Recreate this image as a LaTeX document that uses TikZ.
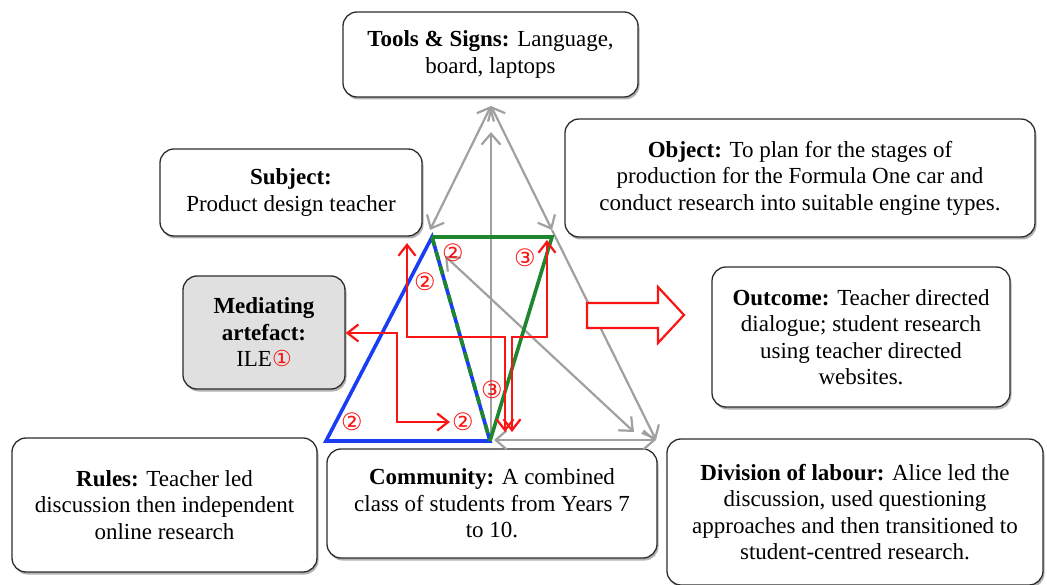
\documentclass[tikz,border=0pt]{standalone}
\usepackage{fontspec}
\setmainfont{Liberation Serif}
\newfontfamily\dejavu{DejaVu Sans}
\usetikzlibrary{arrows.meta,shadows}
\definecolor{gline}{RGB}{160,160,160}
\definecolor{bl}{RGB}{25,60,245}
\definecolor{gr}{RGB}{30,135,45}
\definecolor{rd}{RGB}{250,20,20}
\definecolor{boxedge}{RGB}{45,45,45}
\definecolor{medfill}{RGB}{224,224,224}
\begin{document}
\begin{tikzpicture}[x=1pt,y=-1pt,
  box/.style={draw=boxedge, line width=1.3pt, rounded corners=14pt, fill=white, align=center,
    font=\fontsize{23}{26.5}\selectfont, inner sep=0pt,
    drop shadow={shadow xshift=1.5pt, shadow yshift=-2.5pt, opacity=0.3, fill=black}},
  num/.style={text=rd, font=\dejavu\fontsize{24}{24}\selectfont, inner sep=0pt},
  gconn/.style={draw=gline, line width=2.2pt, >={Straight Barb[length=11pt,width=19pt]}},
  rconn/.style={draw=rd, line width=2.2pt, >={Straight Barb[length=11pt,width=17pt]}},
  bside/.style={draw=bl, line width=3.6pt, line join=miter},
  gside/.style={draw=gr, line width=3.6pt, line join=miter}
]
\useasboundingbox (0,0) rectangle (1047,585);

% boxes
\node[box, minimum width=295pt, minimum height=85pt] (tools) at (490.5,54.5)
  {\textbf{Tools \& Signs:} Language,\\ board, laptops};
\node[box, minimum width=262pt, minimum height=87pt] (subject) at (291,192.5)
  {\textbf{Subject:}\\ Product design teacher};
\node[box, minimum width=470pt, minimum height=118pt] (object) at (800,178)
  {\textbf{Object:} To plan for the stages of\\ production for the Formula One car and\\ conduct research into suitable engine types.};
\node[box, fill=medfill, minimum width=162pt, minimum height=113pt] (med) at (264,332.5)
  {\textbf{Mediating}\\ \textbf{artefact:}\\ ILE{\color{rd}\dejavu\fontsize{22}{22}\selectfont ①}};
\node[box, minimum width=298pt, minimum height=140pt] (outcome) at (861,337)
  {\textbf{Outcome:} Teacher directed\\ dialogue; student research\\ using teacher directed\\ websites.};
\node[box, minimum width=305pt, minimum height=134pt] (rules) at (164.5,505)
  {\textbf{Rules:} Teacher led\\ discussion then independent\\ online research};
\node[box, minimum width=330pt, minimum height=109pt] (community) at (492,503.5)
  {\textbf{Community:} A combined\\ class of students from Years 7\\ to 10.};
\node[box, minimum width=376pt, minimum height=146pt] (division) at (855,512)
  {\textbf{Division of labour:} Alice led the\\ discussion, used questioning\\ approaches and then transitioned to\\ student-centred research.};

% triangle points
\coordinate (A) at (491,106);
\coordinate (L) at (430,230);
\coordinate (O) at (552,230);
\coordinate (BR) at (656,440);
\coordinate (Vt) at (491,132);
\coordinate (Vb) at (491,440);
\coordinate (D1) at (445,256);
\coordinate (D2) at (634,432);
\coordinate (B1) at (494,440);

% gray activity triangle
\draw[gconn,<->] (L) -- (A);
\draw[gconn,<->] (O) -- (A);
\draw[gconn,->] (O) -- (BR);
\draw[gconn,->] (Vb) -- (Vt);
\draw[gconn,<->] (D1) -- (D2);
\draw[gconn,<->] (B1) -- (BR);

% coloured triangles
\coordinate (T1) at (432,237);
\coordinate (T2) at (552,237);
\coordinate (TB) at (326,441);
\coordinate (TM) at (490,441);
\draw[bside] (T1) -- (TB) -- (TM) -- cycle;
\draw[gside] (T1) -- (T2) -- (TM);
\draw[gside, dash pattern=on 9pt off 6pt] (T1) -- (TM);

% red connectors
\coordinate (r1a) at (407,243);
\coordinate (r1b) at (407,337);
\coordinate (r1c) at (505,337);
\coordinate (r1d) at (505,432);
\coordinate (r2a) at (547,240);
\coordinate (r2b) at (547,337);
\coordinate (r2c) at (512,337);
\coordinate (r2d) at (512,432);
\coordinate (r3b) at (397,333);
\coordinate (r3c) at (397,422);
\coordinate (r3d) at (450,422);
\draw[rconn,<->] (r1a) -- (r1b) -- (r1c) -- (r1d);
\draw[rconn,<->] (r2a) -- (r2b) -- (r2c) -- (r2d);
\draw[rconn,<->] (med.east |- r3b) -- (r3b) -- (r3c) -- (r3d);

% circled numbers
\node[num] (n1) at (453,253) {②};
\node[num] (n2) at (425,282) {②};
\node[num] (n3) at (525,258) {③};
\node[num] (n4) at (492,390) {③};
\node[num] (n5) at (352,422) {②};
\node[num] (n6) at (463,422) {②};

% hollow arrow to outcome
\draw[draw=rd, line width=2.2pt, fill=white, line join=miter]
  (587,303) -- (658,303) -- (658,287) -- (684,315) -- (658,343) -- (658,328) -- (587,328) -- cycle;
\end{tikzpicture}
\end{document}
